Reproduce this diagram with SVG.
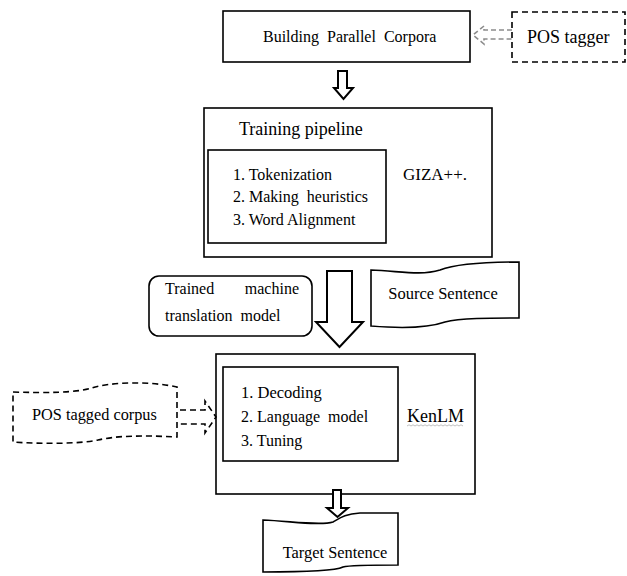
<svg xmlns="http://www.w3.org/2000/svg" width="627" height="576" viewBox="0 0 627 576" xml:space="preserve">
<style>
  text { font-family: "Liberation Serif", "Times New Roman", serif; fill: #000; white-space: pre; }
  .box { fill: #fff; stroke: #000; stroke-width: 1.6; }
  .dash { fill: #fff; stroke: #000; stroke-width: 1.6; stroke-dasharray: 6 4; }
  .arrow { fill: #fff; stroke: #000; stroke-width: 2; stroke-linejoin: miter; }
  .garrow { fill: none; stroke: #8c8c8c; stroke-width: 1.6; stroke-dasharray: 5 3; }
  .darrow { fill: none; stroke: #000; stroke-width: 1.6; stroke-dasharray: 6 4; }
</style>
<rect width="627" height="576" fill="#fff"/>

<g id="building">
  <rect class="box" x="223" y="11" width="247" height="51"/>
  <text x="263" y="42" font-size="16">Building  Parallel  Corpora</text>
</g>

<g id="pos-tagger">
  <rect class="dash" x="512" y="12" width="113" height="50"/>
  <text x="527" y="43" font-size="18">POS tagger</text>
</g>

<g id="training">
  <rect class="box" x="204" y="108" width="288" height="149"/>
  <text x="239" y="135" font-size="18">Training pipeline</text>
  <rect class="box" x="208" y="150" width="178" height="93"/>
  <text x="233" y="180" font-size="16">1. Tokenization</text>
  <text x="233" y="202" font-size="16">2. Making  heuristics</text>
  <text x="233" y="225" font-size="16">3. Word Alignment</text>
  <text x="403" y="180" font-size="17">GIZA++.</text>
</g>

<g id="trained-model">
  <rect class="box" x="149" y="276" width="163" height="60" rx="10" ry="10"/>
  <text x="165" y="294" font-size="16">Trained</text>
  <text x="299" y="294" font-size="16" text-anchor="end">machine</text>
  <text x="165" y="321" font-size="16">translation  model</text>
</g>

<g id="source-sentence">
  <path class="box" d="M371,270 C400,271 420,276 440,270 C458,263 490,262 519,262 L519,318 C490,318 460,318 445,322 C425,329 395,328 371,326 Z"/>
  <text x="443" y="299" font-size="16.5" text-anchor="middle">Source Sentence</text>
</g>

<g id="decoding">
  <rect class="box" x="216" y="354" width="259" height="140"/>
  <rect class="box" x="223" y="367" width="175" height="94"/>
  <text x="241" y="398" font-size="16.5">1. Decoding</text>
  <text x="241" y="422" font-size="16">2. Language  model</text>
  <text x="241" y="446" font-size="16">3. Tuning</text>
  <text x="407" y="422" font-size="18">KenLM</text>
  <path d="M407,426 l2,-1.2 l2,1.2 l2,-1.2 l2,1.2 l2,-1.2 l2,1.2 l2,-1.2 l2,1.2 l2,-1.2 l2,1.2 l2,-1.2 l2,1.2 l2,-1.2 l2,1.2 l2,-1.2 l2,1.2 l2,-1.2 l2,1.2 l2,-1.2 l2,1.2 l2,-1.2 l2,1.2 l2,-1.2 l2,1.2 l2,-1.2 l2,1.2 l2,-1.2 l2,1.2" fill="none" stroke="#b0b0b0" stroke-width="0.8"/>
</g>

<g id="pos-tagged-corpus">
  <path class="dash" d="M13,392 C45,393 75,393 92,388 C110,382 150,381 177,387 L177,437 C140,435 115,436 98,440 C80,444 40,444 13,442 Z"/>
  <text x="32" y="420" font-size="16.3">POS tagged corpus</text>
</g>

<g id="target-sentence">
  <path class="box" d="M263,520 C290,521 320,526 333,522 C340,518 345,514 360,513 L398,513 L398,565 C370,565 350,565 343,567 C335,571 300,572 263,572 Z"/>
  <text x="335" y="558" font-size="16.4" text-anchor="middle">Target Sentence</text>
</g>

<g id="connectors">
  <polygon class="arrow" points="338,71 347,71 347,88 353,88 343.5,99 334,88 338,88"/>
  <polygon class="arrow" points="327,271 352,271 352,322 363,322 339.5,347 316,322 327,322" stroke-width="2.6"/>
  <polygon class="arrow" points="333,490 341,490 341,508 348,508 337.5,517 327,508 333,508"/>
  <polyline class="garrow" points="512,30 484,30 484,26 473,35 484,44 484,39 512,39"/>
  <polyline class="darrow" points="180,410 205,410 205,401 216,417 205,433 205,424 180,424"/>
</g>
</svg>
